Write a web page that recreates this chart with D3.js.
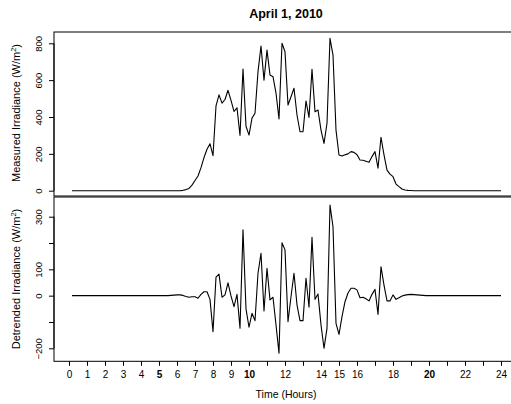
<!DOCTYPE html>
<html>
<head>
<meta charset="utf-8">
<script src="https://cdn.jsdelivr.net/npm/d3@7"></script>
<style>
  html, body { margin: 0; padding: 0; background: #fff; }
  svg { display: block; font-family: "Liberation Sans", Arial, Helvetica, sans-serif; }
</style>
</head>
<body>
<svg id="chart" width="511" height="404"></svg>
<script>
// ---- Data (10-minute samples, 00:10 .. 24:00) ----
const startHour = 1 / 6;
const stepHour = 1 / 6;

const measured = [
  0,0,0,0,0,0,0,0,0,0, 0,0,0,0,0,0,0,0,0,0, 0,0,0,0,0,0,0,0,0,0, 0,0,0,0,0,0,
  0,2,6,12,30,55,80,125,180,225,255,190,460,520,475,495,545,490,430,450,
  300,660,350,302,394,420,646,785,600,763,628,619,530,389,800,754,465,510,556,411,
  320,320,487,398,659,429,438,329,257,366,827,736,329,194,188,195,200,212,208,195,
  167,165,160,154,185,212,122,290,194,112,90,76,36,22,9,4,2,1,
  0,0,0,0,0,0,0,0,0,0, 0,0,0,0,0,0,0,0,0,0, 0,0,0,0,0,0,0,0,0,0
];

const detrended = [
  0,0,0,0,0,0,0,0,0,0, 0,0,0,0,0,0,0,0,0,0, 0,0,0,0,0,0,0,0,0,0, 0,0,0,
  1,2,3,3,1,-3,-6,-4,-4,-10,5,15,15,-14,-137,70,82,-6,3,49,-1,-42,5,-124,250,-50,
  -120,-67,-95,85,161,-58,104,-16,-6,-111,-219,201,174,-99,-4,85,-35,-95,-95,66,
  -44,222,-14,6,-111,-200,-124,344,262,-105,-147,-80,-23,10,28,28,22,-8,-6,-12,
  -20,5,24,-71,110,40,-20,-20,3,-14,-8,-1,2,4,5,4,3,2,1,
  0,0,0,0,0,0,0,0,0,0, 0,0,0,0,0,0,0,0,0,0, 0,0,0,0,0,0
];

const xTicks = [0,1,2,3,4,5,6,7,8,9,10,11,12,13,14,15,16,17,18,19,20,21,22,23,24];
const xLabelled = [0,1,2,3,4,5,6,7,8,9,10,12,14,15,16,18,20,22,24];
const xBold = [5,10,20];
const topTicks = [0,200,400,600,800];
const bottomTicks = [-200,-100,0,100,200,300];
const bottomLabelled = [-200,0,100,300];

const title = "April 1, 2010";
const xTitle = "Time (Hours)";

// ---- Layout ----
const svg = d3.select("#chart");
const left = 54, right = 518;
const topPanel = {top: 32, bottom: 196};
const botPanel = {top: 197, bottom: 361.3};

const x = d3.scaleLinear().domain([0, 24]).range([69, 501]);
const yTop = d3.scaleLinear().domain([0, 800]).range([190.7, 43.3]);
const yBot = d3.scaleLinear().domain([-200, 300]).range([348.3, 216.7]);

const times = measured.map((_, i) => startHour + i * stepHour);

// Boxes
svg.append("rect").attr("x", left).attr("y", topPanel.top)
  .attr("width", right - left).attr("height", topPanel.bottom - topPanel.top)
  .attr("fill", "none").attr("stroke", "#000").attr("stroke-width", 1);
svg.append("rect").attr("x", left).attr("y", botPanel.top)
  .attr("width", right - left).attr("height", botPanel.bottom - botPanel.top)
  .attr("fill", "none").attr("stroke", "#000").attr("stroke-width", 1);

// Lines
const lineTop = d3.line().x((d, i) => x(times[i])).y(d => yTop(d));
const lineBot = d3.line().x((d, i) => x(times[i])).y(d => yBot(d));
svg.append("path").datum(measured).attr("d", lineTop)
  .attr("fill", "none").attr("stroke", "#000").attr("stroke-width", 1.1).attr("stroke-linejoin", "round");
svg.append("path").datum(detrended).attr("d", lineBot)
  .attr("fill", "none").attr("stroke", "#000").attr("stroke-width", 1.1).attr("stroke-linejoin", "round");

// Y axes
function styleY(g) {
  g.select(".domain").remove();
  g.selectAll(".tick line").attr("stroke", "#000");
  g.selectAll(".tick text")
    .attr("x", null).attr("dy", "0.35em")
    .attr("text-anchor", "middle")
    .attr("transform", "translate(-15,0) rotate(-90)")
    .attr("font-size", 9.5).attr("fill", "#000");
}
const axTop = svg.append("g").attr("transform", `translate(${left},0)`)
  .call(d3.axisLeft(yTop).tickValues(topTicks).tickSize(5).tickFormat(d3.format("d")));
styleY(axTop);
const axBot = svg.append("g").attr("transform", `translate(${left},0)`)
  .call(d3.axisLeft(yBot).tickValues(bottomTicks).tickSize(5)
    .tickFormat(d => bottomLabelled.includes(d) ? String(d).replace("-", "\u2212") : ""));
styleY(axBot);

svg.append("line").attr("x1", left).attr("x2", left)
  .attr("y1", yTop(0)).attr("y2", yTop(800)).attr("stroke", "#000");
svg.append("line").attr("x1", left).attr("x2", left)
  .attr("y1", yBot(-200)).attr("y2", yBot(300)).attr("stroke", "#000");

// X axis
const axX = svg.append("g").attr("transform", `translate(0,${botPanel.bottom})`)
  .call(d3.axisBottom(x).tickValues(xTicks).tickSize(4.5).tickPadding(5)
    .tickFormat(d => xLabelled.includes(d) ? String(d) : ""));
axX.select(".domain").remove();
axX.selectAll(".tick line").attr("stroke", "#000");
axX.selectAll(".tick text").attr("font-size", 10).attr("fill", "#000")
  .attr("font-weight", d => xBold.includes(d) ? "bold" : "normal");

// Titles
svg.append("text").attr("x", 286).attr("y", 18).attr("text-anchor", "middle")
  .attr("font-size", 12.5).attr("font-weight", "bold").text(title);
svg.append("text").attr("x", 286).attr("y", 398).attr("text-anchor", "middle")
  .attr("font-size", 10.5).text(xTitle);

function yTitle(cy, label) {
  const t = svg.append("text")
    .attr("transform", `translate(20,${cy}) rotate(-90)`)
    .attr("text-anchor", "middle").attr("font-size", 11);
  t.append("tspan").text(label + " (W/m");
  t.append("tspan").attr("font-size", 7.5).attr("dy", "-0.5em").text("2");
  t.append("tspan").attr("dy", "0.35em").text(")");
}
yTitle(113, "Measured Irradiance");
yTitle(279, "Detrended Irradiance");
</script>
</body>
</html>
